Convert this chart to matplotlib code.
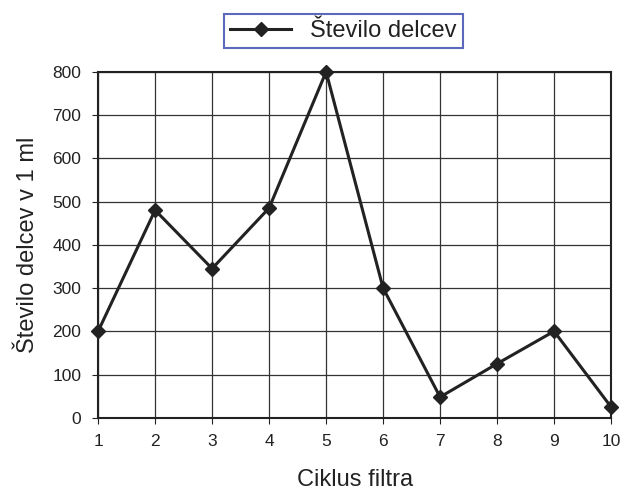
import matplotlib
matplotlib.use("Agg")
import matplotlib.pyplot as plt

plt.rcParams['font.family'] = ['Liberation Sans', 'DejaVu Sans']

cycles = [1, 2, 3, 4, 5, 6, 7, 8, 9, 10]
counts = [200, 480, 345, 485, 800, 300, 48, 125, 200, 25]
y_ticks = [0, 100, 200, 300, 400, 500, 600, 700, 800]

fig = plt.figure(figsize=(6.21, 4.95), dpi=100)
ax = fig.add_axes([0.158, 0.156, 0.826, 0.699])

ax.plot(cycles, counts, color='#222222', lw=2.2, marker='D', ms=7,
        label='Število delcev', clip_on=False, zorder=5)

ax.set_xlim(1, 10)
ax.set_ylim(0, 800)
ax.set_xticks(cycles)
ax.set_yticks(y_ticks)
ax.grid(True, color='#333333', lw=0.9)
for s in ax.spines.values():
    s.set_linewidth(1.5)
    s.set_color('#222222')
ax.tick_params(labelsize=12.5, colors='#222222', length=4, pad=8)

ax.set_xlabel('Ciklus filtra', fontsize=17, color='#222222', labelpad=14)
ax.set_ylabel('Število delcev v 1 ml', fontsize=17, color='#222222', labelpad=10)

leg = fig.legend(loc='center', bbox_to_anchor=(0.553, 0.937), fontsize=17,
                 frameon=True, fancybox=False, handlelength=2.6,
                 borderpad=0.25, labelcolor='#222222')
leg.get_frame().set_edgecolor('#3344aa')
leg.get_frame().set_linewidth(1.5)

fig.savefig('out.png', dpi=100)
